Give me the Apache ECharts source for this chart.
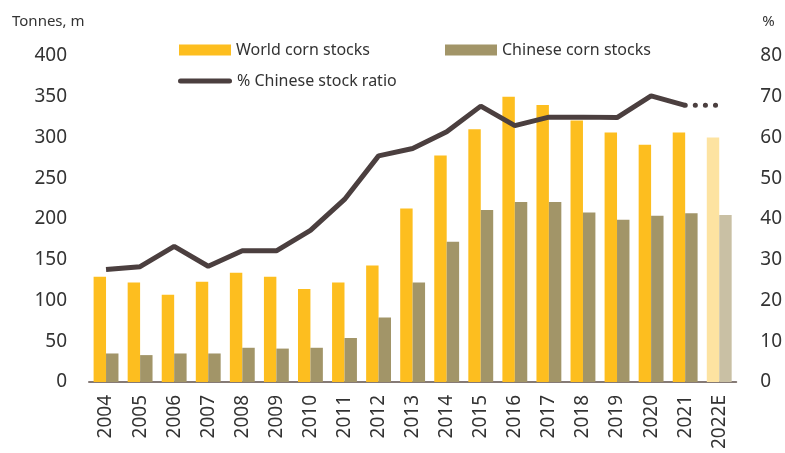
<!DOCTYPE html>
<html>
<head>
<meta charset="utf-8">
<script src="https://cdn.jsdelivr.net/npm/echarts@6/dist/echarts.min.js"></script>
<style>
html,body{margin:0;padding:0;background:#fff;}
#chart{width:785px;height:453px;}
</style>
</head>
<body>
<div id="chart"></div>
<script>
// 数据
var years = ['2004','2005','2006','2007','2008','2009','2010','2011','2012','2013',
             '2014','2015','2016','2017','2018','2019','2020','2021','2022E'];
var worldStocks = [129,122,107,123,134,129,114,122,143,213,278,310,350,340,321,306,291,306,300];
var chinaStocks = [35,33,35,35,42,41,42,54,79,122,172,211,221,221,208,199,204,207,205];
var chinaRatio  = [27.6,28.3,33.3,28.4,32.2,32.2,37.2,44.8,55.5,57.3,61.4,67.7,62.9,65,65,64.9,70.2,67.9,67.9];
var leftTicks = {min:0, max:400, interval:50};
var rightTicks = {min:0, max:80, interval:10};

var FONT = "Noto Sans";
var TXT = "#333";
var last = years.length - 1;

function barData(vals, lightColor){
	return vals.map(function(v, i){
		if(i === last){
			return {value:v, itemStyle:{color:lightColor}};
		}
		return v;
	});
}

// 实线: 2004-2021, 点线: 2021-2022E
var solidLine = chinaRatio.map(function(v, i){ return i === last ? null : v; });
var dotLine = chinaRatio.map(function(v, i){ return i >= last - 1 ? v : null; });

var chart = echarts.init(document.getElementById('chart'));
var option = {
	animation:false,
	textStyle:{fontFamily:FONT, color:TXT},
	grid:{left:89, right:42, top:56, bottom:71},
	legend:[
		{
			left:174, top:37, itemWidth:52, itemHeight:11, itemGap:10,
			icon:'rect',
			textStyle:{fontFamily:FONT, fontSize:16, color:TXT},
			data:['World corn stocks']
		},
		{
			left:440, top:37, itemWidth:52, itemHeight:11,
			icon:'rect',
			textStyle:{fontFamily:FONT, fontSize:16, color:TXT},
			data:['Chinese corn stocks']
		},
		{
			left:173, top:68, itemWidth:54, itemHeight:5,
			textStyle:{fontFamily:FONT, fontSize:16, color:TXT},
			data:[{name:'% Chinese stock ratio',
				icon:'path://M2.5,0 H51.5 A2.5,2.5 0 0 1 51.5,5 H2.5 A2.5,2.5 0 0 1 2.5,0 Z'}]
		}
	],
	xAxis:{
		type:'category',
		data:years,
		axisLine:{lineStyle:{color:'#857a76', width:2}},
		axisTick:{show:false},
		axisLabel:{rotate:90, interval:0, margin:13, fontSize:19, color:TXT, fontFamily:FONT}
	},
	yAxis:[
		{
			type:'value',
			min:leftTicks.min, max:leftTicks.max, interval:leftTicks.interval,
			name:'Tonnes, m',
			nameLocation:'end',
			nameGap:27,
			nameTextStyle:{fontSize:15, color:TXT, fontFamily:FONT, align:'left', padding:[0,0,0,-77]},
			splitLine:{show:false},
			axisLine:{show:false},
			axisTick:{show:false},
			axisLabel:{margin:22, fontSize:19, color:TXT, fontFamily:FONT}
		},
		{
			type:'value',
			min:rightTicks.min, max:rightTicks.max, interval:rightTicks.interval,
			name:'%',
			nameLocation:'end',
			nameGap:27,
			nameTextStyle:{fontSize:15, color:TXT, fontFamily:FONT, align:'left', padding:[0,0,0,26]},
			splitLine:{show:false},
			axisLine:{show:false},
			axisTick:{show:false},
			axisLabel:{margin:24, fontSize:19, color:TXT, fontFamily:FONT, align:'left'}
		}
	],
	series:[
		{
			name:'World corn stocks',
			type:'bar',
			barGap:'0%',
			barCategoryGap:'27%',
			itemStyle:{color:'#FDBE1F'},
			data:barData(worldStocks, '#FDE3A1')
		},
		{
			name:'Chinese corn stocks',
			type:'bar',
			itemStyle:{color:'#A29568'},
			data:barData(chinaStocks, '#C9C0A4')
		},
		{
			name:'% Chinese stock ratio',
			type:'line',
			yAxisIndex:1,
			symbol:'none',
			itemStyle:{color:'#4B3F3F'},
			lineStyle:{color:'#4B3F3F', width:5},
			data:solidLine
		},
		{
			name:'ratio forecast',
			type:'line',
			yAxisIndex:1,
			symbol:'none',
			itemStyle:{color:'#4B3F3F'},
			lineStyle:{color:'#4B3F3F', width:5, type:[0.1, 10], cap:'round'},
			data:dotLine
		}
	]
};
chart.setOption(option);
</script>
</body>
</html>
